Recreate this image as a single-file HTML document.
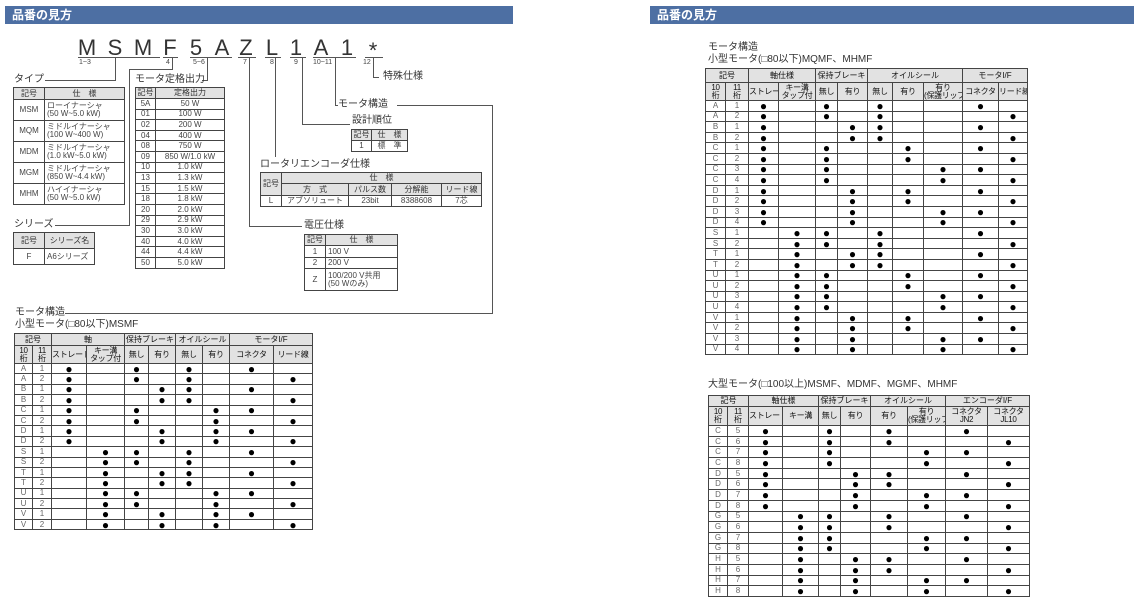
<!DOCTYPE html>
<html><head><meta charset="utf-8"><style>
body{margin:0;width:1134px;height:601px;background:#fff;position:relative;overflow:hidden;font-family:"Liberation Sans","Noto Sans CJK JP",sans-serif;color:#333}
.bar{position:absolute;top:6px;height:18px;background:#4d6fa3;color:#fff;font-weight:bold;font-size:12px;line-height:18px;padding-left:7px;box-sizing:border-box}
.t{position:absolute;font-size:10px;white-space:nowrap;line-height:1;color:#333}
table{position:absolute;border-collapse:collapse;table-layout:fixed;font-size:8px;line-height:1}
td{border:1px solid #444;padding:0;text-align:center;color:#444;overflow:hidden;white-space:nowrap}
tr.h td{background:#e2e2e2;color:#333}
.l{text-align:left;padding-left:2px}
table.dt td{font-size:8px;color:#111}
table.dt tr.r td{font-size:12px;line-height:8px;color:#000}
table.dt tr.r td:nth-child(1),table.dt tr.r td:nth-child(2){color:#666;font-size:8px;line-height:1}
.s{font-size:6px;letter-spacing:-0.3px}
</style></head><body>
<div class="bar" style="left:5px;width:508px">品番の見方</div>
<div class="bar" style="left:650px;width:484px">品番の見方</div>

<svg width="1134" height="601" style="position:absolute;left:0;top:0" font-family="Liberation Sans, Noto Sans CJK JP, sans-serif">
<g fill="#333" font-size="22" text-anchor="middle">
<text x="87" y="55">M</text><text x="115" y="55">S</text><text x="143" y="55">M</text><text x="170" y="55">F</text><text x="196" y="55">5</text><text x="222" y="55">A</text><text x="246" y="55">Z</text><text x="272" y="55">L</text><text x="296" y="55">1</text><text x="321" y="55">A</text><text x="347" y="55">1</text><text x="373" y="58">*</text>
</g>
<g stroke="#555" stroke-width="1" fill="none">
<path d="M78 57.5H160M163 57.5H178M190 57.5H232M238 57.5H256M265 57.5H281M290 57.5H306M313 57.5H356M365 57.5H383"/>
<path d="M45 80.5H115.5V57"/>
<path d="M55 225.5H129.5V69.5H172.5V57"/>
<path d="M202 80.5H207.5V57"/>
<path d="M249.5 57V226.5H302"/>
<path d="M275.5 57V157"/>
<path d="M302.5 57V124.5H350"/>
<path d="M335.5 57V105.5H338"/>
<path d="M397 105.5H492.5V313.5H65"/>
<path d="M373.5 57V77.5H379"/>
</g>
<g fill="#444" font-size="7">
<text x="79" y="64">1~3</text><text x="166" y="64">4</text><text x="193" y="64">5~6</text><text x="243" y="64">7</text><text x="270" y="64">8</text><text x="294" y="64">9</text><text x="313" y="64">10~11</text><text x="363" y="64">12</text>
</g>
</svg>

<div class="t" style="left:14px;top:75px">タイプ</div>
<div class="t" style="left:135px;top:75px">モータ定格出力</div>
<div class="t" style="left:383px;top:72px">特殊仕様</div>
<div class="t" style="left:338px;top:100px">モータ構造</div>
<div class="t" style="left:352px;top:116px">設計順位</div>
<div class="t" style="left:260px;top:160px">ロータリエンコーダ仕様</div>
<div class="t" style="left:304px;top:221px">電圧仕様</div>
<div class="t" style="left:14px;top:220px">シリーズ</div>
<div class="t" style="left:15px;top:308px">モータ構造</div>
<div class="t" style="left:15px;top:320px">小型モータ(□80以下)MSMF</div>
<div class="t" style="left:708px;top:43px">モータ構造</div>
<div class="t" style="left:708px;top:55px">小型モータ(□80以下)MQMF、MHMF</div>
<div class="t" style="left:708px;top:380px">大型モータ(□100以上)MSMF、MDMF、MGMF、MHMF</div>

<table style="left:13px;top:87px;width:112px">
<col style="width:31px"><col>
<tr class="h" style="height:12px"><td>記号</td><td>仕　様</td></tr>
<tr style="height:21px"><td>MSM</td><td class="l">ローイナーシャ<br>(50 W~5.0 kW)</td></tr>
<tr style="height:21px"><td>MQM</td><td class="l">ミドルイナーシャ<br>(100 W~400 W)</td></tr>
<tr style="height:21px"><td>MDM</td><td class="l">ミドルイナーシャ<br>(1.0 kW~5.0 kW)</td></tr>
<tr style="height:21px"><td>MGM</td><td class="l">ミドルイナーシャ<br>(850 W~4.4 kW)</td></tr>
<tr style="height:21px"><td>MHM</td><td class="l">ハイイナーシャ<br>(50 W~5.0 kW)</td></tr>
</table>

<table style="left:13px;top:232px;width:82px">
<col style="width:31px"><col>
<tr class="h" style="height:16px"><td>記号</td><td>シリーズ名</td></tr>
<tr style="height:16px"><td>F</td><td class="l">A6シリーズ</td></tr>
</table>

<table style="left:135px;top:87px;width:90px">
<col style="width:20px"><col>
<tr class="h" style="height:11px"><td>記号</td><td>定格出力</td></tr>
<tr style="height:10.6px"><td>5A</td><td>50 W</td></tr>
<tr style="height:10.6px"><td>01</td><td>100 W</td></tr>
<tr style="height:10.6px"><td>02</td><td>200 W</td></tr>
<tr style="height:10.6px"><td>04</td><td>400 W</td></tr>
<tr style="height:10.6px"><td>08</td><td>750 W</td></tr>
<tr style="height:10.6px"><td>09</td><td>850 W/1.0 kW</td></tr>
<tr style="height:10.6px"><td>10</td><td>1.0 kW</td></tr>
<tr style="height:10.6px"><td>13</td><td>1.3 kW</td></tr>
<tr style="height:10.6px"><td>15</td><td>1.5 kW</td></tr>
<tr style="height:10.6px"><td>18</td><td>1.8 kW</td></tr>
<tr style="height:10.6px"><td>20</td><td>2.0 kW</td></tr>
<tr style="height:10.6px"><td>29</td><td>2.9 kW</td></tr>
<tr style="height:10.6px"><td>30</td><td>3.0 kW</td></tr>
<tr style="height:10.6px"><td>40</td><td>4.0 kW</td></tr>
<tr style="height:10.6px"><td>44</td><td>4.4 kW</td></tr>
<tr style="height:10.6px"><td>50</td><td>5.0 kW</td></tr>
</table>

<table style="left:351px;top:129px;width:57px">
<col style="width:20px"><col>
<tr class="h" style="height:11px"><td>記号</td><td>仕　様</td></tr>
<tr style="height:11px"><td>1</td><td>標　準</td></tr>
</table>

<table style="left:260px;top:172px;width:222px">
<col style="width:21px"><col style="width:67px"><col style="width:43px"><col style="width:50px"><col>
<tr class="h" style="height:11px"><td rowspan="2">記号</td><td colspan="4">仕　様</td></tr>
<tr class="h" style="height:12px"><td>方　式</td><td>パルス数</td><td>分解能</td><td>リード線</td></tr>
<tr style="height:11px"><td>L</td><td>アブソリュート</td><td>23bit</td><td>8388608</td><td>7芯</td></tr>
</table>

<table style="left:304px;top:234px;width:94px">
<col style="width:21px"><col>
<tr class="h" style="height:11px"><td>記号</td><td>仕　様</td></tr>
<tr style="height:12px"><td>1</td><td class="l">100 V</td></tr>
<tr style="height:11px"><td>2</td><td class="l">200 V</td></tr>
<tr style="height:22px"><td>Z</td><td class="l">100/200 V共用<br>(50 Wのみ)</td></tr>
</table>

<table class="dt" style="left:14px;top:333px;width:299px">
<col style="width:18px"><col style="width:19px"><col style="width:35px"><col style="width:38px"><col style="width:24px"><col style="width:27px"><col style="width:27px"><col style="width:27px"><col style="width:44px"><col>
<tr class="h" style="height:12px"><td colspan="2">記号</td><td colspan="2">軸</td><td colspan="2">保持ブレーキ</td><td colspan="2">オイルシール</td><td colspan="2">モータI/F</td></tr>
<tr class="h" style="height:18px"><td class="s">10<br>桁</td><td class="s">11<br>桁</td><td class="s">ストレート</td><td class="s">キー溝<br>タップ付</td><td class="s">無し</td><td class="s">有り</td><td class="s">無し</td><td class="s">有り</td><td class="s">コネクタ</td><td class="s">リード線</td></tr>
<tr class="r" style="height:10.4px"><td>A</td><td>1</td><td>●</td><td></td><td>●</td><td></td><td>●</td><td></td><td>●</td><td></td></tr>
<tr class="r" style="height:10.4px"><td>A</td><td>2</td><td>●</td><td></td><td>●</td><td></td><td>●</td><td></td><td></td><td>●</td></tr>
<tr class="r" style="height:10.4px"><td>B</td><td>1</td><td>●</td><td></td><td></td><td>●</td><td>●</td><td></td><td>●</td><td></td></tr>
<tr class="r" style="height:10.4px"><td>B</td><td>2</td><td>●</td><td></td><td></td><td>●</td><td>●</td><td></td><td></td><td>●</td></tr>
<tr class="r" style="height:10.4px"><td>C</td><td>1</td><td>●</td><td></td><td>●</td><td></td><td></td><td>●</td><td>●</td><td></td></tr>
<tr class="r" style="height:10.4px"><td>C</td><td>2</td><td>●</td><td></td><td>●</td><td></td><td></td><td>●</td><td></td><td>●</td></tr>
<tr class="r" style="height:10.4px"><td>D</td><td>1</td><td>●</td><td></td><td></td><td>●</td><td></td><td>●</td><td>●</td><td></td></tr>
<tr class="r" style="height:10.4px"><td>D</td><td>2</td><td>●</td><td></td><td></td><td>●</td><td></td><td>●</td><td></td><td>●</td></tr>
<tr class="r" style="height:10.4px"><td>S</td><td>1</td><td></td><td>●</td><td>●</td><td></td><td>●</td><td></td><td>●</td><td></td></tr>
<tr class="r" style="height:10.4px"><td>S</td><td>2</td><td></td><td>●</td><td>●</td><td></td><td>●</td><td></td><td></td><td>●</td></tr>
<tr class="r" style="height:10.4px"><td>T</td><td>1</td><td></td><td>●</td><td></td><td>●</td><td>●</td><td></td><td>●</td><td></td></tr>
<tr class="r" style="height:10.4px"><td>T</td><td>2</td><td></td><td>●</td><td></td><td>●</td><td>●</td><td></td><td></td><td>●</td></tr>
<tr class="r" style="height:10.4px"><td>U</td><td>1</td><td></td><td>●</td><td>●</td><td></td><td></td><td>●</td><td>●</td><td></td></tr>
<tr class="r" style="height:10.4px"><td>U</td><td>2</td><td></td><td>●</td><td>●</td><td></td><td></td><td>●</td><td></td><td>●</td></tr>
<tr class="r" style="height:10.4px"><td>V</td><td>1</td><td></td><td>●</td><td></td><td>●</td><td></td><td>●</td><td>●</td><td></td></tr>
<tr class="r" style="height:10.4px"><td>V</td><td>2</td><td></td><td>●</td><td></td><td>●</td><td></td><td>●</td><td></td><td>●</td></tr>
</table>

<table class="dt" style="left:705px;top:68px;width:323px">
<col style="width:20px"><col style="width:23px"><col style="width:30px"><col style="width:37px"><col style="width:22px"><col style="width:30px"><col style="width:25px"><col style="width:31px"><col style="width:39px"><col style="width:36px"><col>
<tr class="h" style="height:14px"><td colspan="2">記号</td><td colspan="2">軸仕様</td><td colspan="2">保持ブレーキ</td><td colspan="3">オイルシール</td><td colspan="2">モータI/F</td></tr>
<tr class="h" style="height:18px"><td class="s">10<br>桁</td><td class="s">11<br>桁</td><td class="s">ストレート</td><td class="s">キー溝<br>タップ付</td><td class="s">無し</td><td class="s">有り</td><td class="s">無し</td><td class="s">有り</td><td class="s">有り<br>(保護リップ)</td><td class="s">コネクタ</td><td class="s">リード線</td></tr>
<tr class="r" style="height:10.6px"><td>A</td><td>1</td><td>●</td><td></td><td>●</td><td></td><td>●</td><td></td><td></td><td>●</td><td></td></tr>
<tr class="r" style="height:10.6px"><td>A</td><td>2</td><td>●</td><td></td><td>●</td><td></td><td>●</td><td></td><td></td><td></td><td>●</td></tr>
<tr class="r" style="height:10.6px"><td>B</td><td>1</td><td>●</td><td></td><td></td><td>●</td><td>●</td><td></td><td></td><td>●</td><td></td></tr>
<tr class="r" style="height:10.6px"><td>B</td><td>2</td><td>●</td><td></td><td></td><td>●</td><td>●</td><td></td><td></td><td></td><td>●</td></tr>
<tr class="r" style="height:10.6px"><td>C</td><td>1</td><td>●</td><td></td><td>●</td><td></td><td></td><td>●</td><td></td><td>●</td><td></td></tr>
<tr class="r" style="height:10.6px"><td>C</td><td>2</td><td>●</td><td></td><td>●</td><td></td><td></td><td>●</td><td></td><td></td><td>●</td></tr>
<tr class="r" style="height:10.6px"><td>C</td><td>3</td><td>●</td><td></td><td>●</td><td></td><td></td><td></td><td>●</td><td>●</td><td></td></tr>
<tr class="r" style="height:10.6px"><td>C</td><td>4</td><td>●</td><td></td><td>●</td><td></td><td></td><td></td><td>●</td><td></td><td>●</td></tr>
<tr class="r" style="height:10.6px"><td>D</td><td>1</td><td>●</td><td></td><td></td><td>●</td><td></td><td>●</td><td></td><td>●</td><td></td></tr>
<tr class="r" style="height:10.6px"><td>D</td><td>2</td><td>●</td><td></td><td></td><td>●</td><td></td><td>●</td><td></td><td></td><td>●</td></tr>
<tr class="r" style="height:10.6px"><td>D</td><td>3</td><td>●</td><td></td><td></td><td>●</td><td></td><td></td><td>●</td><td>●</td><td></td></tr>
<tr class="r" style="height:10.6px"><td>D</td><td>4</td><td>●</td><td></td><td></td><td>●</td><td></td><td></td><td>●</td><td></td><td>●</td></tr>
<tr class="r" style="height:10.6px"><td>S</td><td>1</td><td></td><td>●</td><td>●</td><td></td><td>●</td><td></td><td></td><td>●</td><td></td></tr>
<tr class="r" style="height:10.6px"><td>S</td><td>2</td><td></td><td>●</td><td>●</td><td></td><td>●</td><td></td><td></td><td></td><td>●</td></tr>
<tr class="r" style="height:10.6px"><td>T</td><td>1</td><td></td><td>●</td><td></td><td>●</td><td>●</td><td></td><td></td><td>●</td><td></td></tr>
<tr class="r" style="height:10.6px"><td>T</td><td>2</td><td></td><td>●</td><td></td><td>●</td><td>●</td><td></td><td></td><td></td><td>●</td></tr>
<tr class="r" style="height:10.6px"><td>U</td><td>1</td><td></td><td>●</td><td>●</td><td></td><td></td><td>●</td><td></td><td>●</td><td></td></tr>
<tr class="r" style="height:10.6px"><td>U</td><td>2</td><td></td><td>●</td><td>●</td><td></td><td></td><td>●</td><td></td><td></td><td>●</td></tr>
<tr class="r" style="height:10.6px"><td>U</td><td>3</td><td></td><td>●</td><td>●</td><td></td><td></td><td></td><td>●</td><td>●</td><td></td></tr>
<tr class="r" style="height:10.6px"><td>U</td><td>4</td><td></td><td>●</td><td>●</td><td></td><td></td><td></td><td>●</td><td></td><td>●</td></tr>
<tr class="r" style="height:10.6px"><td>V</td><td>1</td><td></td><td>●</td><td></td><td>●</td><td></td><td>●</td><td></td><td>●</td><td></td></tr>
<tr class="r" style="height:10.6px"><td>V</td><td>2</td><td></td><td>●</td><td></td><td>●</td><td></td><td>●</td><td></td><td></td><td>●</td></tr>
<tr class="r" style="height:10.6px"><td>V</td><td>3</td><td></td><td>●</td><td></td><td>●</td><td></td><td></td><td>●</td><td>●</td><td></td></tr>
<tr class="r" style="height:10.6px"><td>V</td><td>4</td><td></td><td>●</td><td></td><td>●</td><td></td><td></td><td>●</td><td></td><td>●</td></tr>
</table>

<table class="dt" style="left:708px;top:395px;width:322px">
<col style="width:19px"><col style="width:21px"><col style="width:34px"><col style="width:36px"><col style="width:22px"><col style="width:30px"><col style="width:37px"><col style="width:38px"><col style="width:42px"><col>
<tr class="h" style="height:11px"><td colspan="2">記号</td><td colspan="2">軸仕様</td><td colspan="2">保持ブレーキ</td><td colspan="2">オイルシール</td><td colspan="2">エンコーダI/F</td></tr>
<tr class="h" style="height:19px"><td class="s">10<br>桁</td><td class="s">11<br>桁</td><td class="s">ストレート</td><td class="s">キー溝</td><td class="s">無し</td><td class="s">有り</td><td class="s">有り</td><td class="s">有り<br>(保護リップ)</td><td class="s">コネクタ<br>JN2</td><td class="s">コネクタ<br>JL10</td></tr>
<tr class="r" style="height:10.7px"><td>C</td><td>5</td><td>●</td><td></td><td>●</td><td></td><td>●</td><td></td><td>●</td><td></td></tr>
<tr class="r" style="height:10.7px"><td>C</td><td>6</td><td>●</td><td></td><td>●</td><td></td><td>●</td><td></td><td></td><td>●</td></tr>
<tr class="r" style="height:10.7px"><td>C</td><td>7</td><td>●</td><td></td><td>●</td><td></td><td></td><td>●</td><td>●</td><td></td></tr>
<tr class="r" style="height:10.7px"><td>C</td><td>8</td><td>●</td><td></td><td>●</td><td></td><td></td><td>●</td><td></td><td>●</td></tr>
<tr class="r" style="height:10.7px"><td>D</td><td>5</td><td>●</td><td></td><td></td><td>●</td><td>●</td><td></td><td>●</td><td></td></tr>
<tr class="r" style="height:10.7px"><td>D</td><td>6</td><td>●</td><td></td><td></td><td>●</td><td>●</td><td></td><td></td><td>●</td></tr>
<tr class="r" style="height:10.7px"><td>D</td><td>7</td><td>●</td><td></td><td></td><td>●</td><td></td><td>●</td><td>●</td><td></td></tr>
<tr class="r" style="height:10.7px"><td>D</td><td>8</td><td>●</td><td></td><td></td><td>●</td><td></td><td>●</td><td></td><td>●</td></tr>
<tr class="r" style="height:10.7px"><td>G</td><td>5</td><td></td><td>●</td><td>●</td><td></td><td>●</td><td></td><td>●</td><td></td></tr>
<tr class="r" style="height:10.7px"><td>G</td><td>6</td><td></td><td>●</td><td>●</td><td></td><td>●</td><td></td><td></td><td>●</td></tr>
<tr class="r" style="height:10.7px"><td>G</td><td>7</td><td></td><td>●</td><td>●</td><td></td><td></td><td>●</td><td>●</td><td></td></tr>
<tr class="r" style="height:10.7px"><td>G</td><td>8</td><td></td><td>●</td><td>●</td><td></td><td></td><td>●</td><td></td><td>●</td></tr>
<tr class="r" style="height:10.7px"><td>H</td><td>5</td><td></td><td>●</td><td></td><td>●</td><td>●</td><td></td><td>●</td><td></td></tr>
<tr class="r" style="height:10.7px"><td>H</td><td>6</td><td></td><td>●</td><td></td><td>●</td><td>●</td><td></td><td></td><td>●</td></tr>
<tr class="r" style="height:10.7px"><td>H</td><td>7</td><td></td><td>●</td><td></td><td>●</td><td></td><td>●</td><td>●</td><td></td></tr>
<tr class="r" style="height:10.7px"><td>H</td><td>8</td><td></td><td>●</td><td></td><td>●</td><td></td><td>●</td><td></td><td>●</td></tr>
</table>
</body></html>
